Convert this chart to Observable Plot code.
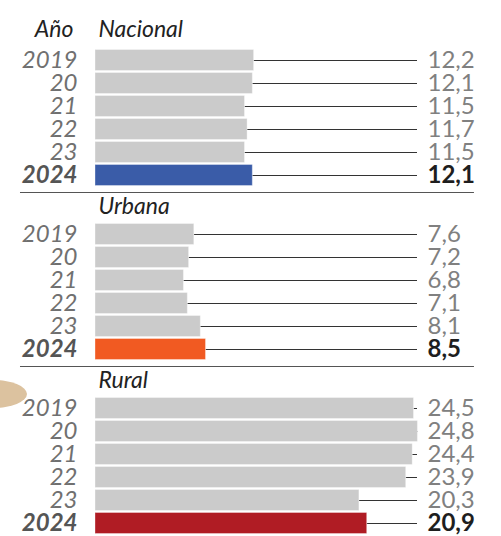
<!DOCTYPE html>
<html>
<head>
<meta charset="utf-8">
<script src="https://cdn.jsdelivr.net/npm/d3@7"></script>
<script src="https://cdn.jsdelivr.net/npm/@observablehq/plot@0.6"></script>
<style>
  html, body { margin: 0; padding: 0; background: #fff; }
  #wrap { position: relative; width: 501px; height: 536px; overflow: hidden; }
  #blob { position: absolute; left: -43px; top: 380px; width: 70px; height: 28px; border-radius: 50%; background: #dcc29f; }
  #chart { position: absolute; left: 0; top: 0; }
</style>
</head>
<body>
<div id="wrap"><div id="blob"></div><div id="chart"></div></div>
<script>
const panels = ["Nacional", "Urbana", "Rural"];
const years = ["2019", "20", "21", "22", "23", "2024"];
const nacional = [12.2, 12.1, 11.5, 11.7, 11.5, 12.1];
const urbana = [7.6, 7.2, 6.8, 7.1, 8.1, 8.5];
const rural = [24.5, 24.8, 24.4, 23.9, 20.3, 20.9];
const highlightColors = ["#3a5ca8", "#f15a22", "#b01c24"];
const yearHeader = "Año";

const seriesByPanel = [nacional, urbana, rural];
const rows = [];
panels.forEach((p, pi) => {
  years.forEach((y, yi) => {
    rows.push({panel: p, year: y, value: seriesByPanel[pi][yi],
      current: yi === years.length - 1,
      color: yi === years.length - 1 ? highlightColors[pi] : "#cbcbcb"});
  });
});
const fmt = v => v.toFixed(1).replace(".", ",");
const lineEnd = 24.77;
const separators = panels.slice(0, -1).map(p => ({panel: p}));
const firstHeader = [{panel: panels[0]}];
const otherHeaders = panels.slice(1).map(p => ({panel: p}));

const chart = Plot.plot({
  width: 501,
  height: 536,
  marginTop: 46.5,
  marginBottom: 1.5,
  marginLeft: 95,
  marginRight: 16,
  style: {fontFamily: "Lato, sans-serif", background: "transparent"},
  x: {domain: [0, 30], axis: null},
  y: {domain: years, axis: null, paddingInner: 0.1, paddingOuter: 0.05},
  fy: {domain: panels, axis: null, paddingInner: 0.198, paddingOuter: 0},
  color: {type: "identity"},
  marks: [
    Plot.ruleY(separators, {fy: "panel", y: () => "2024", x1: -5.77, x2: 29.15, dy: 17, stroke: "#555", strokeWidth: 1.2}),
    Plot.ruleY(rows, {fy: "panel", y: "year", x1: "value", x2: lineEnd, stroke: "#333", strokeWidth: 1}),
    Plot.barX(rows, {fy: "panel", y: "year", x: "value", fill: "color", stroke: "#fff", strokeOpacity: 0.35, strokeWidth: 1}),
    Plot.text(rows.filter(d => !d.current), {fy: "panel", y: "year", x: 0, dx: -18, text: "year", textAnchor: "end", fontStyle: "italic", fontSize: 24, fill: "#707070"}),
    Plot.text(rows.filter(d => d.current), {fy: "panel", y: "year", x: 0, dx: -18, text: "year", textAnchor: "end", fontStyle: "italic", fontWeight: "bold", fontSize: 24, fill: "#555"}),
    Plot.text(rows.filter(d => !d.current), {fy: "panel", y: "year", x: lineEnd, dx: 10, text: d => fmt(d.value), textAnchor: "start", fontSize: 24, fill: "#808080"}),
    Plot.text(rows.filter(d => d.current), {fy: "panel", y: "year", x: lineEnd, dx: 10, text: d => fmt(d.value), textAnchor: "start", fontWeight: "bold", fontSize: 24, fill: "#1e1e1e"}),
    Plot.text(firstHeader, {fy: "panel", y: () => "2019", x: 0, dx: 3, dy: -31, text: "panel", textAnchor: "start", fontStyle: "italic", fontSize: 23, fill: "#222"}),
    Plot.text(otherHeaders, {fy: "panel", y: () => "2019", x: 0, dx: 3, dy: -28, text: "panel", textAnchor: "start", fontStyle: "italic", fontSize: 23, fill: "#222"}),
    Plot.text(firstHeader, {fy: "panel", y: () => "2019", x: 0, dx: -22, dy: -31, text: () => yearHeader, textAnchor: "end", fontStyle: "italic", fontSize: 23, fill: "#222"})
  ]
});
document.getElementById("chart").appendChild(chart);
</script>
</body>
</html>
